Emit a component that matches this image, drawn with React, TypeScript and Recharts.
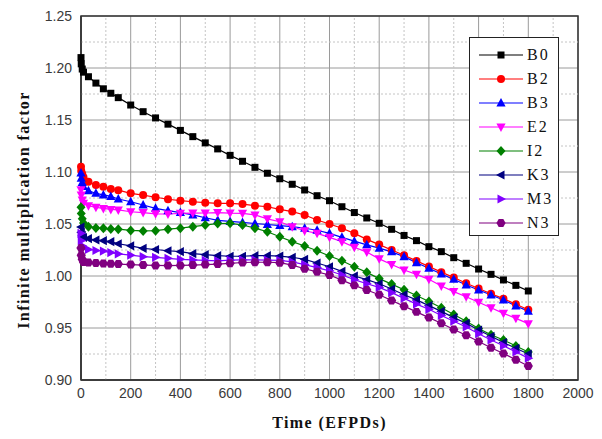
import { LineChart, Line, XAxis, YAxis, CartesianGrid, ReferenceLine, ReferenceArea, Legend } from 'recharts';

// burnup points (EFPD)
const times = [
  0, 1, 5, 10, 30, 60, 90, 120, 150, 200, 250, 300, 350, 400, 450, 500, 550, 600, 650, 700, 750,
  800, 850, 900, 950, 1000, 1050, 1100, 1150, 1200, 1250, 1300, 1350, 1400, 1450, 1500, 1550,
  1600, 1650, 1700, 1750, 1800,
];

const b0 = [
  1.21, 1.204, 1.199, 1.196, 1.1916, 1.1855, 1.18, 1.1757, 1.1715, 1.1644, 1.158, 1.152, 1.146,
  1.14, 1.134, 1.128, 1.1222, 1.116, 1.1103, 1.1045, 1.0988, 1.0935, 1.0882, 1.0827, 1.0772,
  1.0724, 1.0666, 1.061, 1.0558, 1.0507, 1.0449, 1.039, 1.034, 1.0282, 1.0234, 1.0176, 1.0122,
  1.0067, 1.0016, 0.9962, 0.991, 0.9856,
];
const b2 = [
  1.105, 1.101, 1.098, 1.095, 1.0907, 1.0875, 1.0859, 1.0837, 1.0825, 1.0795, 1.0778, 1.0757,
  1.0738, 1.0724, 1.0714, 1.0705, 1.0699, 1.0699, 1.0692, 1.0676, 1.0666, 1.0641, 1.0619, 1.0587,
  1.0538, 1.05, 1.0459, 1.041, 1.0352, 1.0302, 1.025, 1.02, 1.0145, 1.0092, 1.0037, 0.9985, 0.993,
  0.988, 0.983, 0.9782, 0.9728, 0.9675,
];
const b3 = [
  1.099, 1.094, 1.09, 1.086, 1.082, 1.0795, 1.078, 1.0765, 1.074, 1.0714, 1.0683, 1.0651, 1.0628,
  1.061, 1.0587, 1.056, 1.0535, 1.0525, 1.0515, 1.0505, 1.0495, 1.0485, 1.0474, 1.0459, 1.044,
  1.041, 1.0372, 1.0335, 1.03, 1.0268, 1.0232, 1.0186, 1.0128, 1.0074, 1.0019, 0.9968, 0.9913,
  0.9865, 0.9817, 0.9769, 0.9712, 0.9662,
];
const e2 = [
  1.083, 1.078, 1.073, 1.07, 1.0675, 1.066, 1.065, 1.064, 1.0635, 1.0618, 1.061, 1.0598, 1.0596,
  1.0603, 1.0605, 1.0606, 1.061, 1.0605, 1.0603, 1.0587, 1.055, 1.0522, 1.0474, 1.0435, 1.041,
  1.0372, 1.033, 1.0276, 1.023, 1.0165, 1.011, 1.0058, 1.0016, 0.9968, 0.9904, 0.985, 0.9801,
  0.9747, 0.9695, 0.9641, 0.9593, 0.9542,
];
const i2 = [
  1.066, 1.06, 1.055, 1.051, 1.0474, 1.0462, 1.0458, 1.0452, 1.045, 1.0438, 1.0433, 1.0436, 1.045,
  1.046, 1.0474, 1.049, 1.0505, 1.0507, 1.049, 1.046, 1.0426, 1.0378, 1.033, 1.0288, 1.0243,
  1.0192, 1.0147, 1.0089, 1.0035, 0.9975, 0.9922, 0.9868, 0.9812, 0.9755, 0.9695, 0.963, 0.9565,
  0.9495, 0.9435, 0.9385, 0.9327, 0.927,
];
const k3 = [
  1.047, 1.042, 1.039, 1.037, 1.036, 1.0346, 1.034, 1.033, 1.031, 1.029, 1.0266, 1.0255, 1.0243,
  1.0234, 1.0215, 1.0205, 1.0195, 1.019, 1.019, 1.0195, 1.0195, 1.0192, 1.018, 1.016, 1.0125,
  1.0089, 1.0045, 1.0, 0.9965, 0.9925, 0.9875, 0.982, 0.977, 0.9715, 0.966, 0.96, 0.9545, 0.948,
  0.942, 0.936, 0.9305, 0.925,
];
const m3 = [
  1.041, 1.034, 1.029, 1.027, 1.0255, 1.0245, 1.024, 1.0225, 1.0212, 1.02, 1.0186, 1.018, 1.017,
  1.016, 1.0155, 1.015, 1.0146, 1.0152, 1.0155, 1.0155, 1.0152, 1.015, 1.0135, 1.011, 1.008,
  1.005, 1.001, 0.9965, 0.9925, 0.989, 0.984, 0.9785, 0.973, 0.968, 0.962, 0.9565, 0.951, 0.9445,
  0.9385, 0.933, 0.927, 0.921,
];
const n3 = [
  1.027, 1.02, 1.016, 1.0135, 1.013, 1.0125, 1.012, 1.0118, 1.0115, 1.011, 1.0105, 1.0102, 1.01,
  1.0102, 1.0105, 1.011, 1.0115, 1.0122, 1.013, 1.0132, 1.0132, 1.0128, 1.0105, 1.007, 1.004,
  1.001, 0.996, 0.991, 0.9865, 0.982, 0.9765, 0.971, 0.9655, 0.96, 0.9545, 0.9485, 0.943, 0.937,
  0.931, 0.9255, 0.9195, 0.9135,
];

const seriesNames = ['B0', 'B2', 'B3', 'E2', 'I2', 'K3', 'M3', 'N3'];
const seriesValues = [b0, b2, b3, e2, i2, k3, m3, n3];
const seriesColors = ['#000000', '#ff0000', '#0000ff', '#ff00ff', '#008000', '#000080', '#8000ff', '#800080'];
const seriesShapes = ['square', 'circle', 'up', 'down', 'diamond', 'left', 'right', 'hexagon'];

const xTicks = [0, 200, 400, 600, 800, 1000, 1200, 1400, 1600, 1800, 2000];
const xMinor = [100, 300, 500, 700, 900, 1100, 1300, 1500, 1700, 1900];
const yTicks = [0.9, 0.95, 1.0, 1.05, 1.1, 1.15, 1.2, 1.25];
const yMinor = [0.925, 0.975, 1.025, 1.075, 1.125, 1.175, 1.225];

const data = times.map((t, i) => {
  const row: Record<string, number> = { t };
  seriesNames.forEach((name, s) => {
    row[name] = seriesValues[s][i];
  });
  return row;
});

const serif = '"Liberation Serif", "Times New Roman", serif';
const sans = '"Liberation Sans", Arial, sans-serif';

function Marker({ shape, color, cx, cy }: { shape: string; color: string; cx: number; cy: number }) {
  if (shape === 'square') {
    return <rect x={cx - 3.5} y={cy - 3.5} width={7} height={7} fill={color} />;
  }
  if (shape === 'circle') {
    return <circle cx={cx} cy={cy} r={4} fill={color} />;
  }
  let d = '';
  if (shape === 'up') d = `M${cx},${cy - 5}L${cx + 4.6},${cy + 3.5}L${cx - 4.6},${cy + 3.5}Z`;
  if (shape === 'down') d = `M${cx},${cy + 5}L${cx + 4.6},${cy - 3.5}L${cx - 4.6},${cy - 3.5}Z`;
  if (shape === 'left') d = `M${cx - 5},${cy}L${cx + 3.5},${cy - 4.6}L${cx + 3.5},${cy + 4.6}Z`;
  if (shape === 'right') d = `M${cx + 5},${cy}L${cx - 3.5},${cy - 4.6}L${cx - 3.5},${cy + 4.6}Z`;
  if (shape === 'diamond') d = `M${cx},${cy - 5}L${cx + 4.5},${cy}L${cx},${cy + 5}L${cx - 4.5},${cy}Z`;
  if (shape === 'hexagon') {
    const pts = [0, 1, 2, 3, 4, 5].map((k) => {
      const a = (Math.PI / 3) * k;
      return `${cx + 4.6 * Math.cos(a)},${cy + 4.6 * Math.sin(a)}`;
    });
    d = `M${pts.join('L')}Z`;
  }
  return <path d={d} fill={color} />;
}

function LegendBox() {
  return (
    <div style={{ border: '1px solid #222', background: '#fff', paddingTop: 5, width: 88 }}>
      {seriesNames.map((name, i) => (
        <div key={name} style={{ display: 'flex', alignItems: 'center', height: 24 }}>
          <svg width={56} height={24} style={{ display: 'block' }}>
            <line x1={9} x2={53} y1={12} y2={12} stroke={seriesColors[i]} strokeWidth={1.2} />
            <Marker shape={seriesShapes[i]} color={seriesColors[i]} cx={31} cy={12} />
          </svg>
          <span style={{ fontFamily: serif, fontSize: 16, letterSpacing: 2, color: '#111', marginLeft: 1 }}>
            {name}
          </span>
        </div>
      ))}
    </div>
  );
}

export default function App() {
  return (
    <LineChart width={586} height={423} data={data} margin={{ top: 8, right: 16, bottom: 0, left: 0 }}>
      <CartesianGrid stroke="#9a9a9a" strokeWidth={1} />
      {xMinor.map((v) => (
        <ReferenceLine key={`xm${v}`} x={v} stroke="#c4c4c4" strokeDasharray="2 2" />
      ))}
      {yMinor.map((v) => (
        <ReferenceLine key={`ym${v}`} y={v} stroke="#c4c4c4" strokeDasharray="2 2" />
      ))}
      <XAxis
        dataKey="t"
        type="number"
        domain={[0, 2000]}
        ticks={xTicks}
        height={51}
        tickLine={false}
        axisLine={{ stroke: '#333', strokeWidth: 1.5 }}
        tick={{ fill: '#3a3a3a', fontSize: 14, fontFamily: sans }}
        label={{
          content: ({ viewBox }: any) => (
            <text
              x={viewBox.x + viewBox.width / 2}
              y={viewBox.y + 42}
              textAnchor="middle"
              dominantBaseline="central"
              fontFamily={serif}
              fontWeight="bold"
              fontSize={16}
              letterSpacing={1.4}
              fill="#111"
            >
              Time (EFPDs)
            </text>
          ),
        }}
      />
      <YAxis
        type="number"
        domain={[0.9, 1.25]}
        ticks={yTicks}
        width={73}
        tickLine={false}
        tickMargin={3}
        tickFormatter={(v: number) => v.toFixed(2)}
        axisLine={{ stroke: '#333', strokeWidth: 1.5 }}
        tick={{ fill: '#3a3a3a', fontSize: 14, fontFamily: sans }}
        label={{
          content: ({ viewBox }: any) => {
            const cx = viewBox.x + 15;
            const cy = viewBox.y + viewBox.height / 2 + 12;
            return (
              <text
                x={cx}
                y={cy}
                transform={`rotate(-90, ${cx}, ${cy})`}
                textAnchor="middle"
                dominantBaseline="central"
                fontFamily={serif}
                fontWeight="bold"
                fontSize={16}
                letterSpacing={1.4}
                fill="#111"
              >
                Infinite multiplication factor
              </text>
            );
          },
        }}
      />
      <ReferenceArea x1={0} x2={2000} y1={0.9} y2={1.25} fill="none" stroke="#333" strokeWidth={1.5} />
      {seriesNames.map((name, i) => (
        <Line
          key={name}
          dataKey={name}
          stroke={seriesColors[i]}
          strokeWidth={1.2}
          isAnimationActive={false}
          dot={(p: any) => (
            <Marker
              key={`${name}-${p.index}`}
              shape={seriesShapes[i]}
              color={seriesColors[i]}
              cx={p.cx}
              cy={p.cy}
            />
          )}
          activeDot={false}
        />
      ))}
      <Legend
        layout="horizontal"
        verticalAlign="middle"
        align="center"
        content={() => <LegendBox />}
        wrapperStyle={{ left: 461, top: 29, width: 'auto' }}
      />
    </LineChart>
  );
}
